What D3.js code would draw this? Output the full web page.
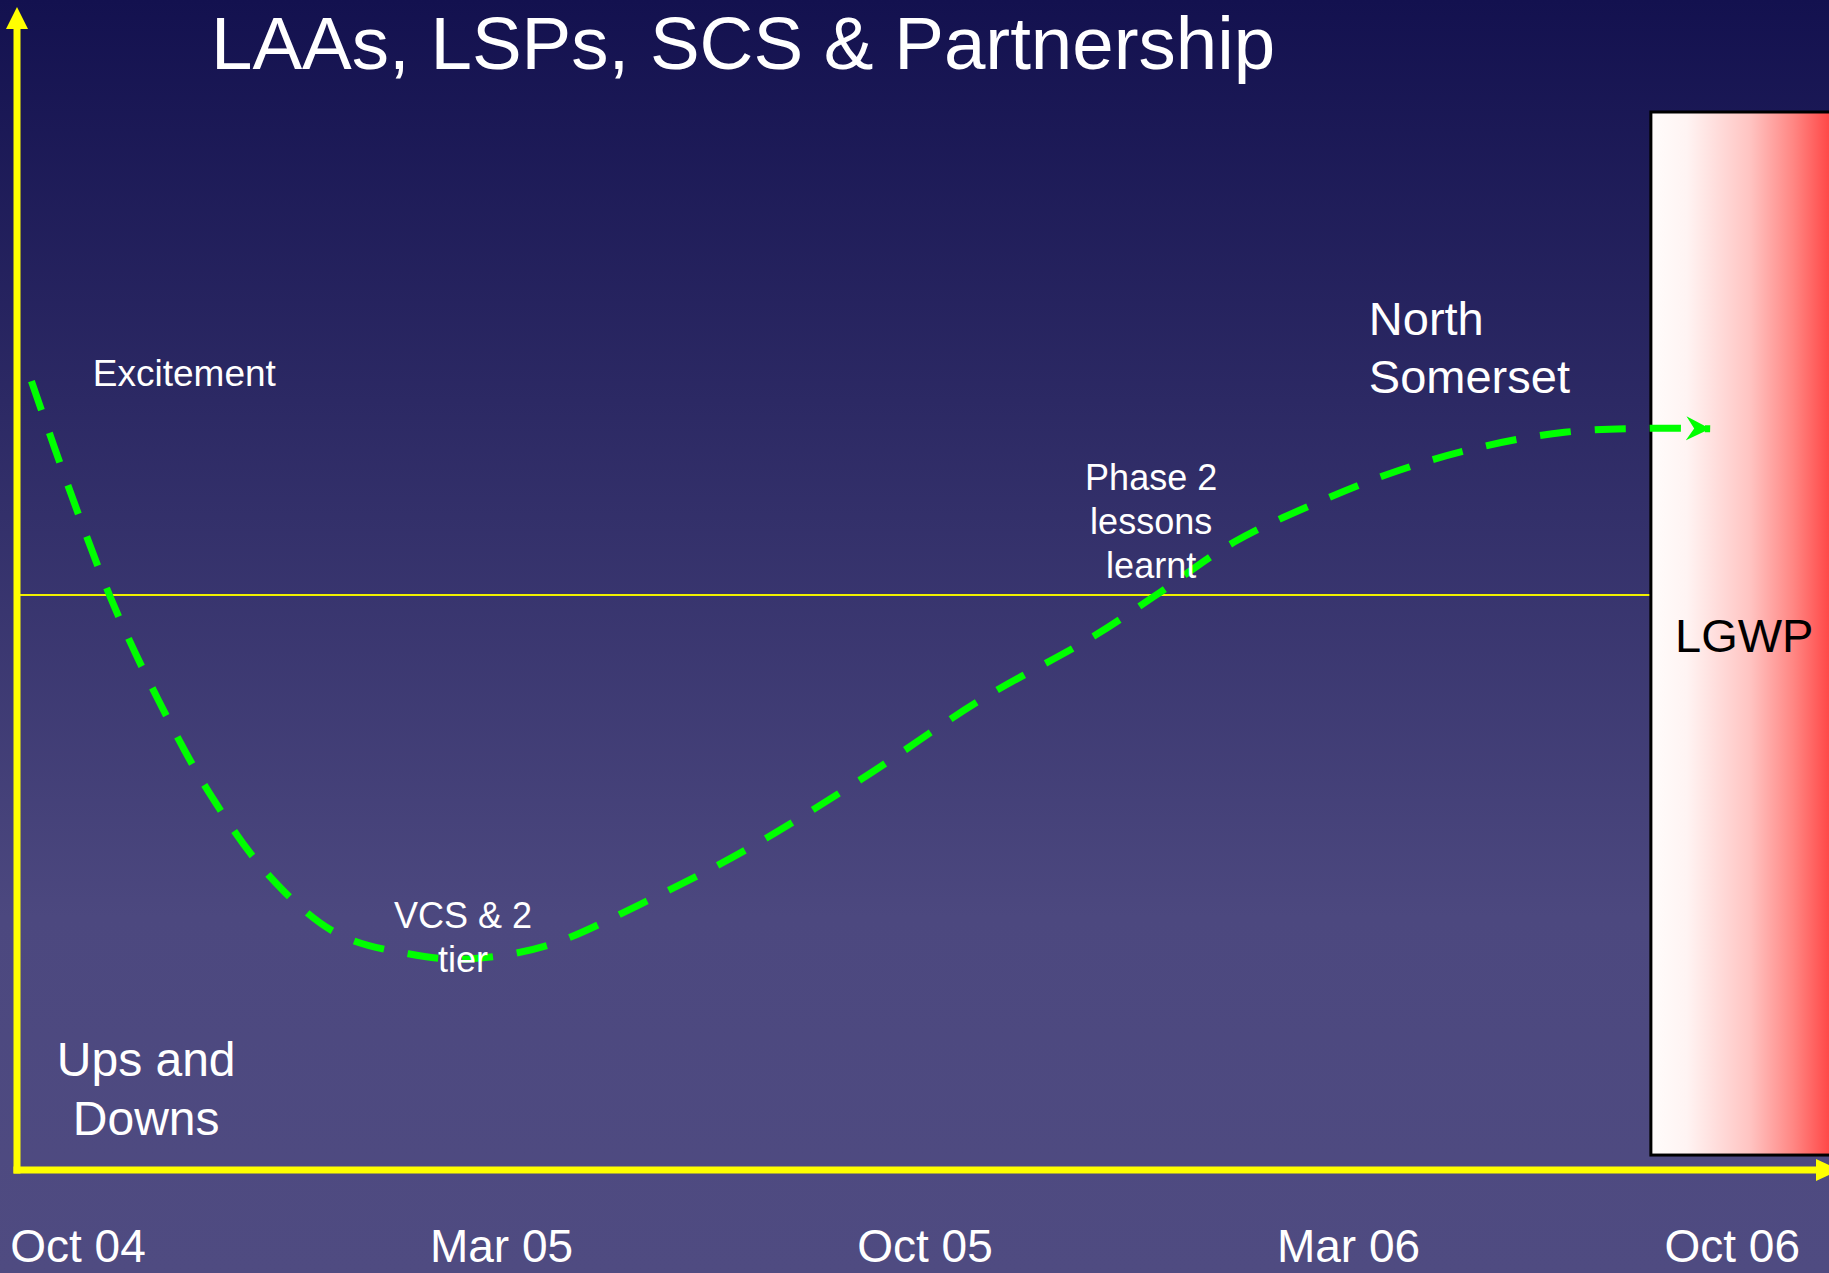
<!DOCTYPE html>
<html>
<head>
<meta charset="utf-8">
<script src="https://cdn.jsdelivr.net/npm/d3@7/dist/d3.min.js"></script>
<style>
  body { margin: 0; overflow: hidden; background: #4f4b81; }
  text { font-family: "Liberation Sans", Arial, sans-serif; }
</style>
</head>
<body>
<div id="chart"></div>
<script>
const width = 1829, height = 1273;

const title = 'LAAs, LSPs, SCS & Partnership';
const tickLabels = ['Oct 04', 'Mar 05', 'Oct 05', 'Mar 06', 'Oct 06'];

// the mood curve, x in tick steps, y from -1 (bottom) to 1 (top), 0 = the thin line
const curveX = [-0.11, -0.02, 0.08, 0.19, 0.31, 0.45, 0.61, 0.78, 0.92, 1.11, 1.33, 1.58, 1.85, 2.13, 2.40, 2.54, 2.73, 2.93, 3.12, 3.31, 3.51, 3.71, 3.854];
const curveY = [0.372, 0.183, -0.010, -0.183, -0.344, -0.487, -0.588, -0.624, -0.633, -0.609, -0.537, -0.442, -0.320, -0.183, -0.071, -0.003, 0.092, 0.162, 0.217, 0.257, 0.283, 0.290, 0.289];

// notes on the curve
const noteLines = [['Excitement'], ['VCS & 2', 'tier'], ['Phase 2', 'lessons', 'learnt'], ['North', 'Somerset'], ['Ups and', 'Downs']];
const noteX = [0.035, 0.909, 2.534, 3.048, 0.161];
const noteY = [0.363, -0.579, 0.183, 0.452, -0.837];
const noteAnchor = ['start', 'middle', 'middle', 'start', 'middle'];
const noteSize = [37, 36, 36, 47, 48];

// the LGWP block
const blockLabel = 'LGWP';
const blockFrom = 3.714, blockTop = 0.84, blockBottom = -0.974;

const x = d3.scaleLinear().domain([0, 4]).range([78, 1772]);
const y = d3.scaleLinear().domain([-1, 1]).range([1170, 20]);

const axisX = 17;

const svg = d3.select('#chart').append('svg')
  .attr('width', width)
  .attr('height', height);

const defs = svg.append('defs');

const bg = defs.append('linearGradient')
  .attr('id', 'bg').attr('x1', 0).attr('y1', 0).attr('x2', 0).attr('y2', 1);
bg.append('stop').attr('offset', '0%').attr('stop-color', '#13114f');
bg.append('stop').attr('offset', '72%').attr('stop-color', '#4c487f');
bg.append('stop').attr('offset', '100%').attr('stop-color', '#4f4b81');

const red = defs.append('linearGradient')
  .attr('id', 'red').attr('x1', 0).attr('y1', 0).attr('x2', 1).attr('y2', 0);
red.append('stop').attr('offset', '0%').attr('stop-color', '#fffcfb');
red.append('stop').attr('offset', '18%').attr('stop-color', '#fff4f3');
red.append('stop').attr('offset', '50%').attr('stop-color', '#ffc4c2');
red.append('stop').attr('offset', '72%').attr('stop-color', '#ff8683');
red.append('stop').attr('offset', '100%').attr('stop-color', '#ff2626');

defs.append('marker')
  .attr('id', 'head')
  .attr('markerUnits', 'userSpaceOnUse')
  .attr('viewBox', '-24 -13 26 26')
  .attr('refX', 0).attr('refY', 0)
  .attr('markerWidth', 26).attr('markerHeight', 26)
  .attr('orient', 'auto')
  .append('path')
  .attr('d', 'M0,0 L-24,-12 L-16,0 L-24,12 Z')
  .attr('fill', '#00ff00');

svg.append('rect')
  .attr('width', width).attr('height', height)
  .attr('fill', 'url(#bg)');

// title
svg.append('text')
  .attr('x', 211).attr('y', 69)
  .attr('fill', '#fff')
  .attr('font-size', 74.5)
  .text(title);

// thin reference line
svg.append('line')
  .attr('x1', axisX).attr('x2', x(blockFrom))
  .attr('y1', y(0)).attr('y2', y(0))
  .attr('stroke', '#f0f000')
  .attr('stroke-width', 2);

// LGWP block
svg.append('rect')
  .attr('x', x(blockFrom))
  .attr('y', y(blockTop))
  .attr('width', width + 20 - x(blockFrom))
  .attr('height', y(blockBottom) - y(blockTop))
  .attr('fill', 'url(#red)')
  .attr('stroke', '#000')
  .attr('stroke-width', 3);

svg.append('text')
  .attr('x', 1675).attr('y', 652)
  .attr('fill', '#000')
  .attr('font-size', 47)
  .text(blockLabel);

// axes
svg.append('line')
  .attr('x1', axisX).attr('x2', axisX)
  .attr('y1', y(-1) + 3.5).attr('y2', 26)
  .attr('stroke', '#ffff00').attr('stroke-width', 7);
svg.append('path')
  .attr('d', `M${axisX},7 L${axisX + 11},29 L${axisX - 11},29 Z`)
  .attr('fill', '#ffff00');

svg.append('line')
  .attr('x1', axisX - 3.5).attr('x2', 1818)
  .attr('y1', y(-1)).attr('y2', y(-1))
  .attr('stroke', '#ffff00').attr('stroke-width', 7);
svg.append('path')
  .attr('d', `M1840,${y(-1)} L1816,${y(-1) - 11} L1816,${y(-1) + 11} Z`)
  .attr('fill', '#ffff00');

// date labels
svg.selectAll('.tick-label')
  .data(tickLabels)
  .enter().append('text')
  .attr('class', 'tick-label')
  .attr('y', 1262)
  .attr('fill', '#fff')
  .attr('font-size', 46)
  .attr('text-anchor', 'middle')
  .text(d => d)
  .attr('x', function (d, i) {
    const half = this.getComputedTextLength() / 2;
    return Math.min(x(i), width - 29 - half);
  });

// curve
const pts = curveX.map((v, i) => [v, curveY[i]]);
const line = d3.line()
  .x(d => x(d[0]))
  .y(d => y(d[1]))
  .curve(d3.curveCatmullRom.alpha(0.5));

svg.append('path')
  .datum(pts)
  .attr('d', line)
  .attr('fill', 'none')
  .attr('stroke', '#00ff00')
  .attr('stroke-width', 7)
  .attr('stroke-dasharray', '31 24')
  .attr('marker-end', 'url(#head)');

// notes
noteLines.forEach((lines, i) => {
  const size = noteSize[i];
  const t = svg.append('text')
    .attr('fill', '#fff')
    .attr('font-size', size)
    .attr('text-anchor', noteAnchor[i]);
  lines.forEach((s, j) => {
    t.append('tspan')
      .attr('x', x(noteX[i]))
      .attr('y', y(noteY[i]) + j * size * 1.23)
      .text(s);
  });
});
</script>
</body>
</html>
